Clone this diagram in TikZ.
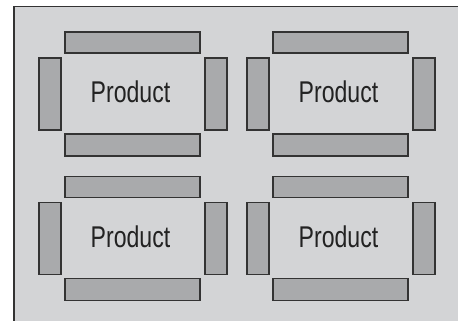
\documentclass[tikz,border=0pt]{standalone}
\usepackage{fontspec}
\setmainfont{Liberation Sans}
\definecolor{bggray}{HTML}{D3D4D6}
\definecolor{bargray}{HTML}{A9AAAC}
\definecolor{edge}{HTML}{333333}
\definecolor{txt}{HTML}{222222}
\tikzset{
  bar/.style={draw=edge, fill=bargray, line width=1.1pt},
  label/.style={anchor=base, inner sep=0pt, text=txt, font=\fontsize{30}{30}\selectfont},
}
\begin{document}
\begin{tikzpicture}[x=1pt,y=-1pt]
\useasboundingbox (0,0) rectangle (458,321);
\fill[bggray] (14,6.5) rectangle (458,321);
\draw[edge, line width=1.2pt] (14,321) coordinate (bl) -- (14,6.5) coordinate (tl) -- (458,6.5) coordinate (tr);
\foreach \dx/\dy/\n in {0/0/a, 208/0/b, 0/144.5/c, 208/144.5/d}{
  \begin{scope}[shift={(\dx,\dy)}]
    \draw[bar] (65,32) rectangle (200,53);
    \draw[bar] (65,134) rectangle (200,156);
    \draw[bar] (39,58) rectangle (61,130);
    \draw[bar] (205,58) rectangle (227,130);
    \node[label] (p\n) at (130.5,102.5) {\scalebox{0.77}[1]{Product}};
  \end{scope}
}
\end{tikzpicture}
\end{document}
